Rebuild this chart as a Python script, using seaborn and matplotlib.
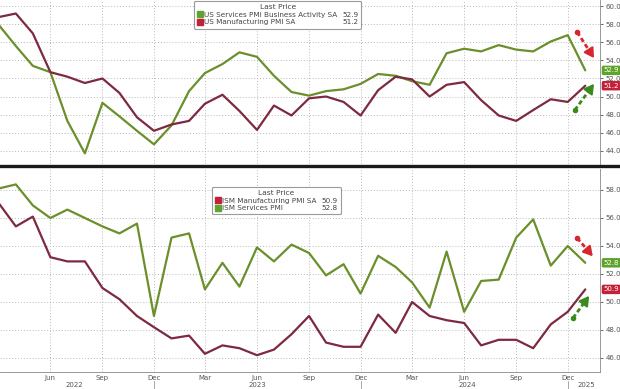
import pandas as pd
import numpy as np
import matplotlib.pyplot as plt
import matplotlib.dates as mdates
import seaborn as sns
from matplotlib.lines import Line2D
from matplotlib.transforms import blended_transform_factory

# monthly observations, Mar 2022 .. Jan 2025
months = pd.date_range('2022-03-01', '2025-01-01', freq='MS')

# S&P Global flash PMIs (top panel)
us_services_pmi = [58.0, 55.6, 53.4, 52.7, 47.3, 43.7, 49.3, 47.8, 46.2, 44.7,
                   46.8, 50.6, 52.6, 53.6, 54.9, 54.4, 52.3, 50.5, 50.1, 50.6, 50.8, 51.4,
                   52.5, 52.3, 51.7, 51.3, 54.8, 55.3, 55.0, 55.7, 55.2, 55.0, 56.1, 56.8,
                   52.9]
us_manuf_pmi = [58.8, 59.2, 57.0, 52.7, 52.2, 51.5, 52.0, 50.4, 47.7, 46.2,
                46.9, 47.3, 49.2, 50.2, 48.4, 46.3, 49.0, 47.9, 49.8, 50.0, 49.4, 47.9,
                50.7, 52.2, 51.9, 50.0, 51.3, 51.6, 49.6, 47.9, 47.3, 48.5, 49.7, 49.4,
                51.2]

# ISM surveys (bottom panel)
ism_manuf = [57.1, 55.4, 56.1, 53.2, 52.9, 52.9, 51.0, 50.2, 49.0, 48.2,
             47.4, 47.6, 46.3, 46.9, 46.7, 46.2, 46.6, 47.7, 49.0, 47.1, 46.8, 46.8,
             49.1, 47.8, 50.0, 49.0, 48.7, 48.5, 46.9, 47.3, 47.3, 46.7, 48.4, 49.3,
             50.9]
ism_services = [58.1, 58.4, 56.9, 56.0, 56.6, 56.0, 55.4, 54.9, 55.6, 49.0,
                54.6, 54.9, 50.9, 52.8, 51.1, 53.9, 52.9, 54.1, 53.5, 51.9, 52.7, 50.6,
                53.3, 52.5, 51.4, 49.6, 53.6, 49.3, 51.5, 51.6, 54.6, 55.9, 52.6, 54.0,
                52.8]

top_names = ['US Services PMI Business Activity SA', 'US Manufacturing PMI SA']
bot_names = ['ISM Manufacturing PMI SA', 'ISM Services PMI']

GREEN = '#6b8f2a'
MAROON = '#7d2a40'
TAG_GREEN = '#5fa32c'
TAG_RED = '#c3203a'

sns.set_style('white')
plt.rcParams['font.family'] = ['DejaVu Sans']

top_df = pd.DataFrame({'date': months, top_names[0]: us_services_pmi,
                       top_names[1]: us_manuf_pmi}).melt('date', var_name='series')
bot_df = pd.DataFrame({'date': months, bot_names[0]: ism_manuf,
                       bot_names[1]: ism_services}).melt('date', var_name='series')

fig = plt.figure(figsize=(6.2, 3.89), dpi=100)
ax1 = fig.add_axes([0.0, 1 - 166 / 389, 600 / 620, 166 / 389])
ax2 = fig.add_axes([0.0, 1 - 372 / 389, 600 / 620, 203 / 389])

sns.lineplot(data=top_df, x='date', y='value', hue='series', ax=ax1, legend=False,
             palette={top_names[0]: GREEN, top_names[1]: MAROON}, linewidth=1.6)
sns.lineplot(data=bot_df, x='date', y='value', hue='series', ax=ax2, legend=False,
             palette={bot_names[0]: MAROON, bot_names[1]: GREEN}, linewidth=1.6)

xlim = (pd.Timestamp('2022-03-04'), pd.Timestamp('2025-01-27'))
for ax in (ax1, ax2):
    ax.set_xlim(xlim)
    ax.set_xlabel('')
    ax.set_ylabel('')
    ax.yaxis.tick_right()
    ax.yaxis.set_major_formatter(plt.FuncFormatter(lambda v, p: f'{v:.1f}'))
    ax.tick_params(axis='y', labelsize=5, length=2.5, width=0.6, pad=1.5,
                   colors='#555555', direction='out')
    ax.xaxis.set_major_locator(mdates.MonthLocator(bymonth=[3, 6, 9, 12]))
    ax.xaxis.set_minor_locator(mdates.MonthLocator())
    ax.grid(True, which='major', linestyle=(0, (1, 2)), color='#b8b8b8', linewidth=0.7)
    for s in ('left', 'top'):
        ax.spines[s].set_visible(False)
    ax.spines['right'].set_color('#888888')
    ax.spines['right'].set_linewidth(0.6)

ax1.set_ylim(42.3, 60.7)
ax1.set_yticks(np.arange(44, 61, 2))
ax1.tick_params(axis='x', which='both', length=0, labelbottom=False)
ax1.spines['bottom'].set_visible(False)

ax2.set_ylim(45.0, 59.5)
ax2.set_yticks(np.arange(46, 59, 2))
ax2.spines['bottom'].set_color('#888888')
ax2.spines['bottom'].set_linewidth(0.6)
ax2.xaxis.set_major_formatter(mdates.DateFormatter('%b'))
ax2.tick_params(axis='x', which='major', labelsize=5, length=3, width=0.6, pad=0.5,
                colors='#555555', direction='inout')
ax2.tick_params(axis='x', which='minor', length=2, width=0.5, colors='#777777',
                direction='inout')

# year labels and December separators
tr = blended_transform_factory(ax2.transData, ax2.transAxes)
year_pos = {'2022': '2022-07-14', '2023': '2023-06-02', '2024': '2024-06-06', '2025': '2025-01-03'}
for yr, d in year_pos.items():
    ax2.text(pd.Timestamp(d), -0.066, yr, transform=tr, ha='center', va='center',
             fontsize=5, color='#555555')
for d in ['2022-12-01', '2023-12-01', '2024-12-01']:
    ax2.plot([pd.Timestamp(d)] * 2, [-0.045, -0.09], transform=tr, color='#999999',
             lw=0.6, clip_on=False)

# thick separator between panels
fig.add_artist(Line2D([0, 1], [1 - 166.5 / 389] * 2, transform=fig.transFigure,
                      color='#1a1a1a', lw=2.4))


def add_legend(ax, names, colors, values, anchor):
    handles = [Line2D([], [], marker='s', ls='none', color=c, markersize=4.2) for c in colors]
    blanks = [Line2D([], [], ls='none') for _ in values]
    leg = ax.legend(handles=handles + blanks,
                    labels=names + [f'{v:.1f}' for v in values],
                    ncol=2, title='Last Price', loc='upper left', bbox_to_anchor=anchor,
                    fontsize=5.2, title_fontsize=5.4, frameon=True, fancybox=True,
                    edgecolor='#9a9a9a', framealpha=1, handlelength=0.7,
                    handletextpad=0.3, columnspacing=-0.4, borderpad=0.45,
                    labelspacing=0.2, borderaxespad=0)
    leg.get_frame().set_linewidth(0.8)
    for t in leg.get_texts():
        t.set_color('#444444')
    leg.get_title().set_color('#444444')


add_legend(ax1, top_names, [TAG_GREEN, TAG_RED], [us_services_pmi[-1], us_manuf_pmi[-1]],
           (194 / 600, 1 - 1 / 166))
add_legend(ax2, bot_names, [TAG_RED, TAG_GREEN], [ism_manuf[-1], ism_services[-1]],
           (212 / 600, 1 - 18 / 203))


def tag(ax, v, color):
    ax.annotate(f'{v:.1f}', xy=(1.0, v), xycoords=ax.get_yaxis_transform(),
                xytext=(2.5, 0), textcoords='offset points', ha='left', va='center',
                fontsize=5, color='white', annotation_clip=False,
                bbox=dict(boxstyle='round,pad=0.25', fc=color, ec='none'))


tag(ax1, us_services_pmi[-1], TAG_GREEN)
tag(ax1, us_manuf_pmi[-1], TAG_RED)
tag(ax2, ism_services[-1], TAG_GREEN)
tag(ax2, ism_manuf[-1], TAG_RED)


def dashed_arrow(ax, start, end, color):
    # dashed shaft with a dot at the start and a solid head
    sx, sy = start
    ex, ey = end
    mx, my = sx + 0.75 * (ex - sx), sy + 0.75 * (ey - sy)
    ax.plot([sx, mx], [sy, my], ls=(0, (1.6, 1.0)), lw=2.0, color=color,
            transform=ax.transAxes, clip_on=False, solid_capstyle='butt')
    ax.plot(sx, sy, 'o', ms=3, color=color, transform=ax.transAxes, clip_on=False)
    ax.annotate('', xy=end, xytext=(mx, my), xycoords='axes fraction',
                arrowprops=dict(arrowstyle='-|>,head_length=0.55,head_width=0.32',
                                lw=1.6, color=color, shrinkA=0, shrinkB=0))


dashed_arrow(ax1, (0.962, 0.807), (0.990, 0.650), '#d7262e')
dashed_arrow(ax1, (0.958, 0.337), (0.990, 0.495), '#3c8a1e')
dashed_arrow(ax2, (0.962, 0.660), (0.988, 0.570), '#d7262e')
dashed_arrow(ax2, (0.955, 0.266), (0.982, 0.375), '#3c8a1e')

fig.savefig('out.png', dpi=100)
